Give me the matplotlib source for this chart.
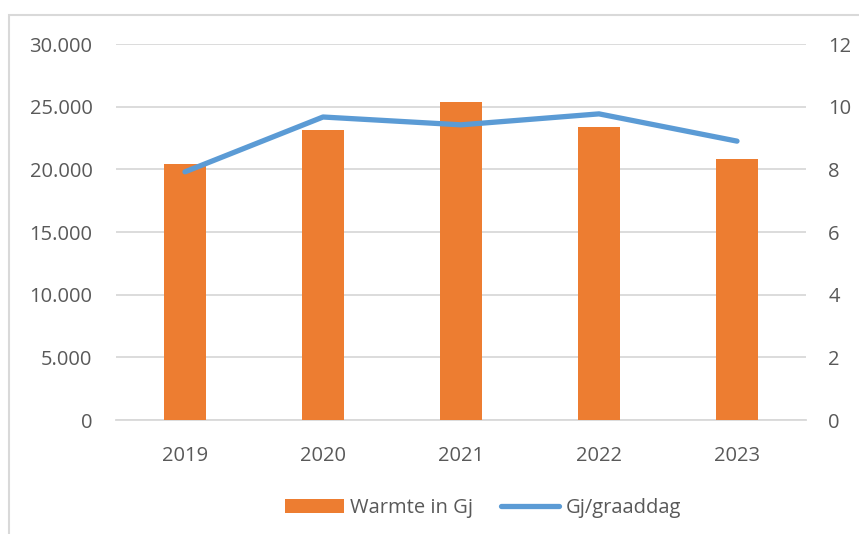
import matplotlib.pyplot as plt
from matplotlib.ticker import FuncFormatter
from matplotlib.patches import Rectangle

years = ['2019', '2020', '2021', '2022', '2023']
warmte_gj = [20400, 23100, 25380, 23400, 20790]
gj_per_graaddag = [7.92, 9.67, 9.42, 9.77, 8.9]

plt.rcParams['font.family'] = ['Open Sans', 'DejaVu Sans']
text_color = '#595959'
grid_color = '#D9D9D9'
fs = 14.5

fig = plt.figure(figsize=(8.59, 5.34), dpi=100)
ax = fig.add_axes([116 / 859, 1 - 420 / 534, 690 / 859, 376 / 534])
ax2 = ax.twinx()

x = range(len(years))
bars = ax.bar(x, warmte_gj, width=0.31, color='#ED7D31', label='Warmte in Gj', zorder=3)
line, = ax2.plot(x, gj_per_graaddag, color='#5B9BD5', linewidth=3.8, solid_capstyle='round',
                 label='Gj/graaddag', zorder=4)

ax.set_xlim(-0.5, 4.5)
ax.set_ylim(0, 30000)
ax2.set_ylim(0, 12)
ax.set_yticks(range(0, 30001, 5000))
ax2.set_yticks(range(0, 13, 2))
ax.yaxis.set_major_formatter(FuncFormatter(lambda v, p: f'{int(v):,}'.replace(',', '.')))
ax.set_xticks(list(x))
ax.set_xticklabels(years)

ax.grid(axis='y', color=grid_color, linewidth=1.3, zorder=0)
ax.set_axisbelow(True)
for a in (ax, ax2):
    for s in a.spines.values():
        s.set_visible(False)
    a.tick_params(length=0, labelsize=fs, colors=text_color)
ax.spines['bottom'].set_visible(True)
ax.spines['bottom'].set_color(grid_color)
ax.spines['bottom'].set_linewidth(1.3)
ax.tick_params(axis='y', pad=17)
ax.tick_params(axis='x', pad=19)
ax2.tick_params(axis='y', pad=16)

# outer chart frame (partially cropped in the original)
fig.patches.append(Rectangle((9 / 859, -0.1), 2, 1.1 - 15 / 534,
                             transform=fig.transFigure, fill=False,
                             edgecolor=grid_color, linewidth=1.5))

fig.legend(handles=[bars, line], loc='center', bbox_to_anchor=(483 / 859, 1 - 508 / 534),
           ncol=2, frameon=False, fontsize=fs, labelcolor=text_color,
           handlelength=2.9, handletextpad=0.3, columnspacing=1.4)

fig.savefig('out.png', dpi=100)
